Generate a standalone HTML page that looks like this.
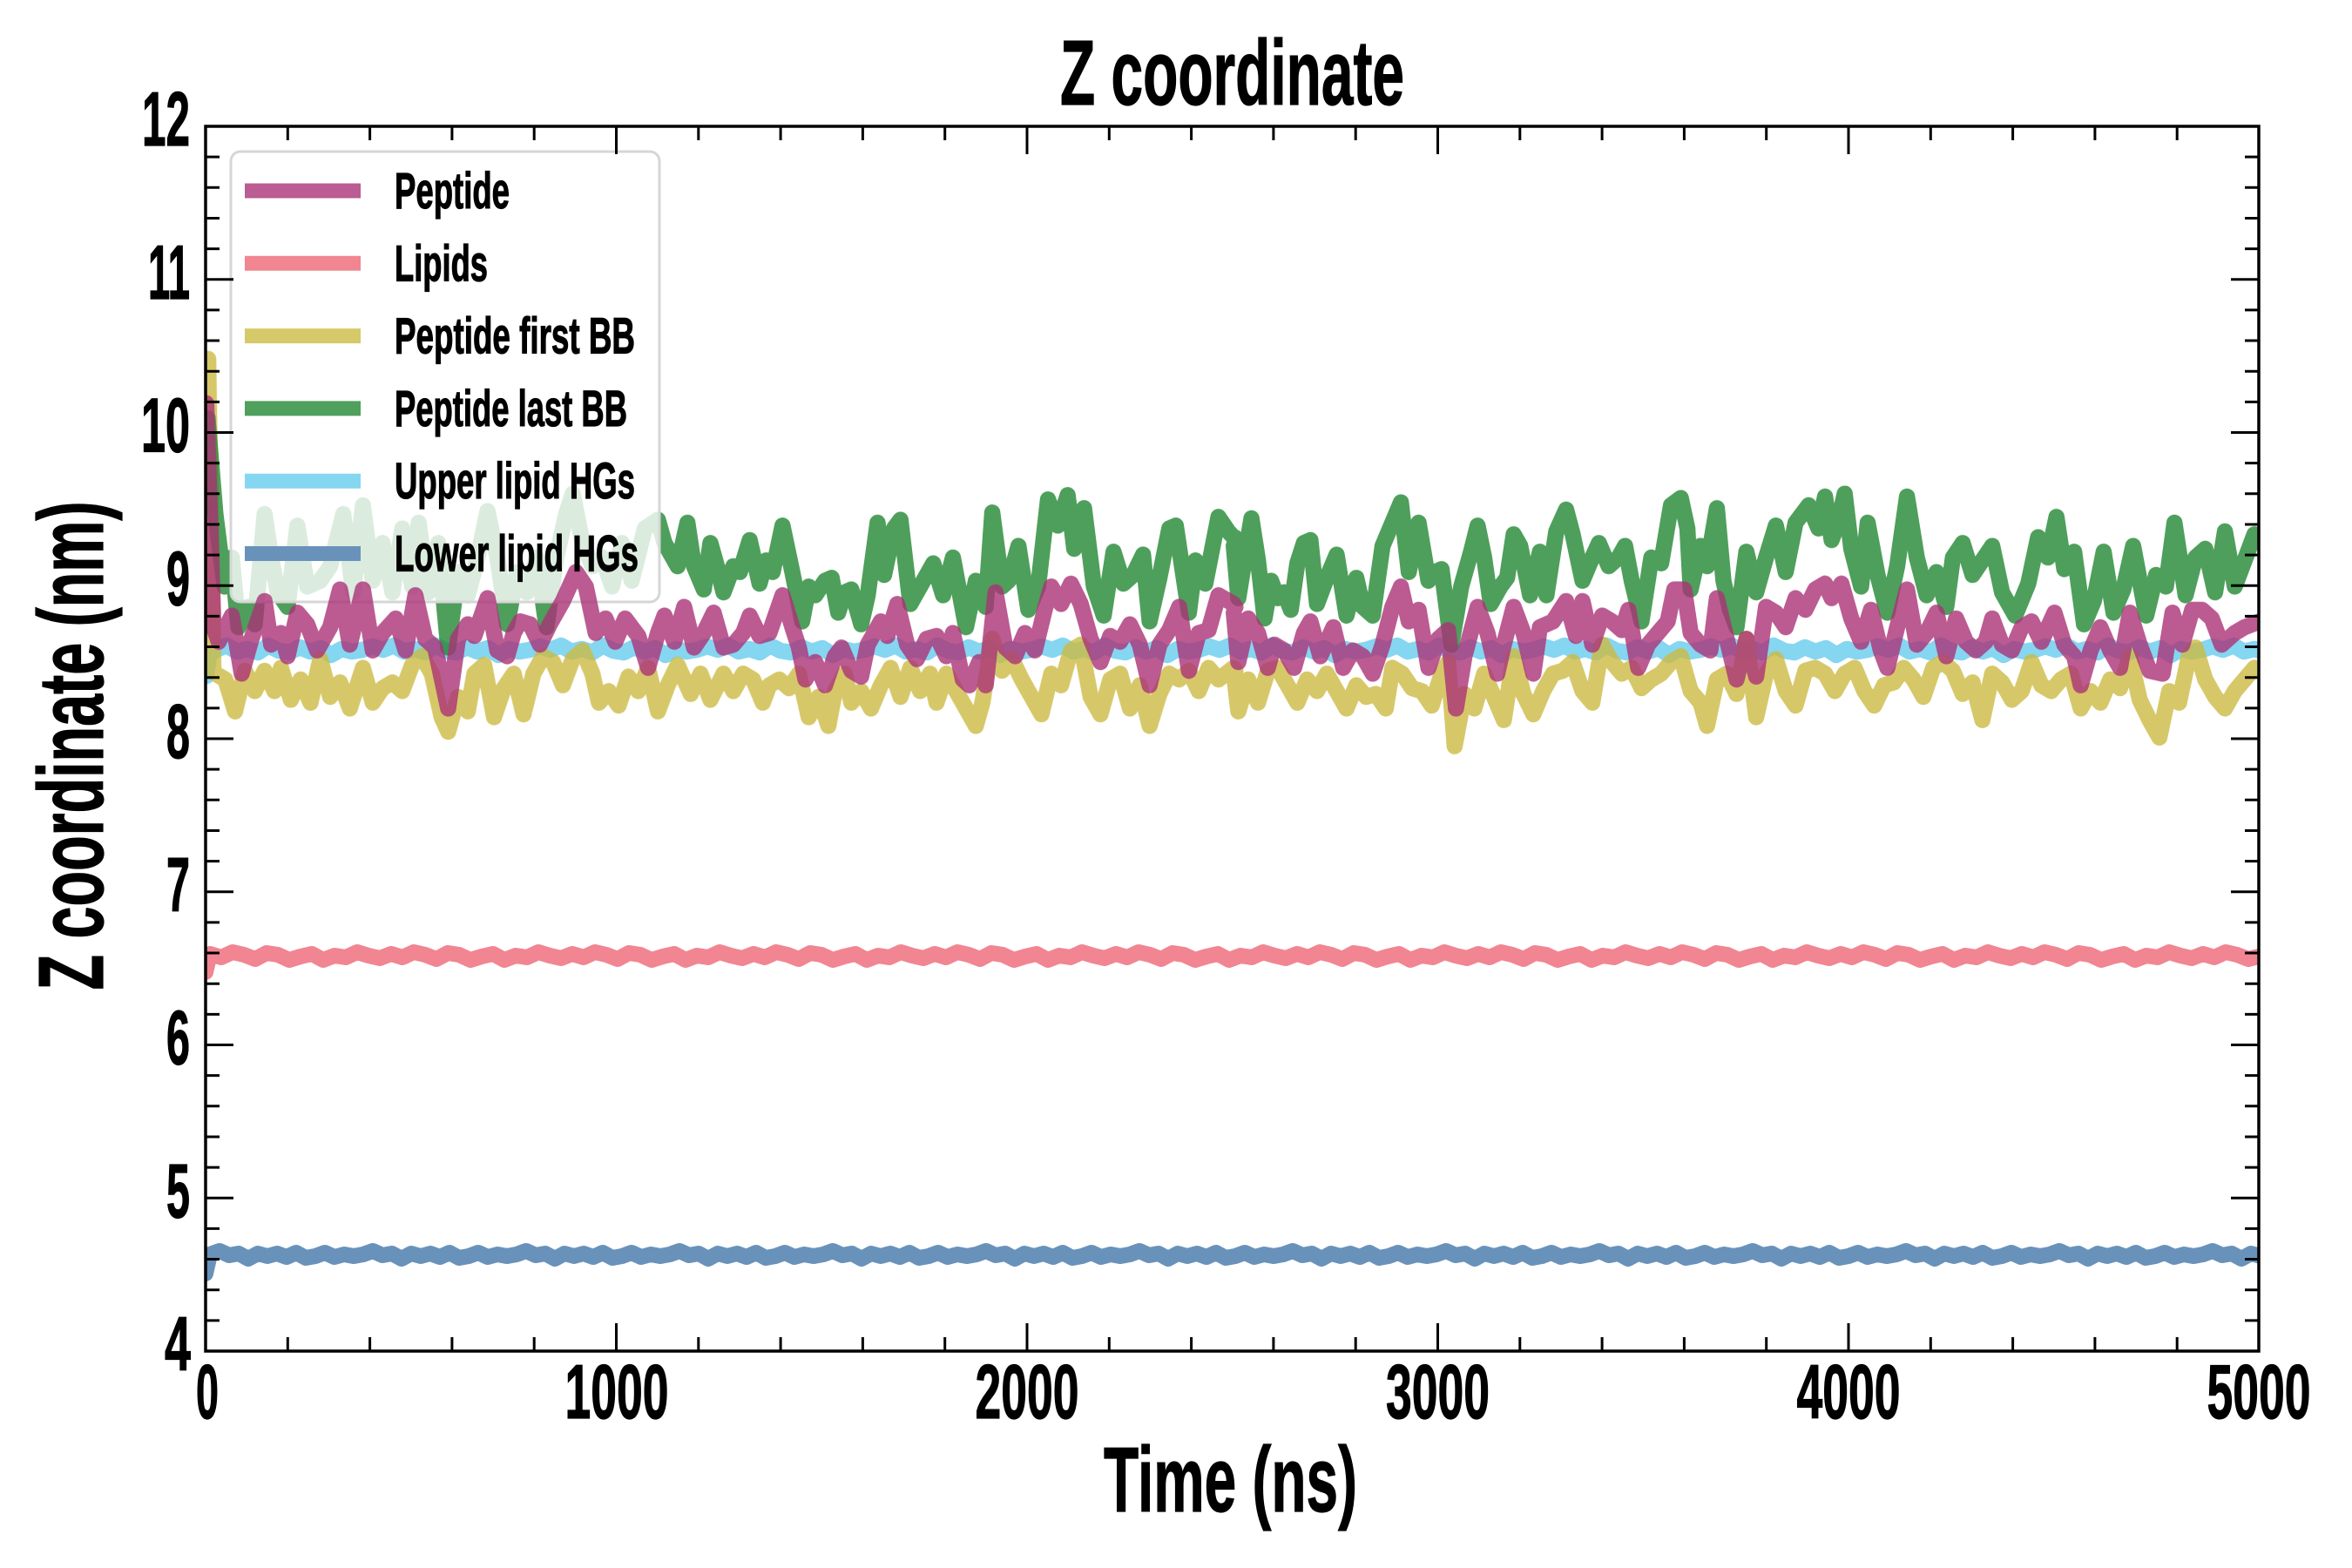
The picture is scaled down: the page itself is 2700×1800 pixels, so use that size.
<!DOCTYPE html>
<html><head><meta charset="utf-8"><style>
html,body{margin:0;padding:0;background:#fff;}
svg{display:block;}
text{font-family:"Liberation Sans Narrow","Liberation Sans",sans-serif;font-weight:700;fill:#000;stroke:#000;stroke-width:1.2;}
</style></head><body>
<svg width="2700" height="1800" viewBox="0 0 2700 1800" xmlns="http://www.w3.org/2000/svg">
<defs><clipPath id="pc"><rect x="236" y="145" width="2357" height="1406"/></clipPath></defs>
<rect x="0" y="0" width="2700" height="1800" fill="#fff"/>

<g clip-path="url(#pc)" fill="none" stroke-width="18" stroke-linejoin="round" stroke-linecap="round">
<!-- Lipids -->
<g opacity="0.8"><path stroke="#EE6677" d="M236,1116 L241,1095 l13,4 l13,-6 l13,3 l13,5 l13,-7 l13,2 l13,6 l13,-4 l13,-3 l13,7 l13,-5 l13,2 l13,-6 l13,4 l13,3 l13,-5 l13,4 l13,-6 l13,3 l13,5 l13,-7 l13,2 l13,6 l13,-4 l13,-3 l13,7 l13,-5 l13,2 l13,-6 l13,4 l13,3 l13,-5 l13,4 l13,-6 l13,3 l13,5 l13,-7 l13,2 l13,6 l13,-4 l13,-3 l13,7 l13,-5 l13,2 l13,-6 l13,4 l13,3 l13,-5 l13,4 l13,-6 l13,3 l13,5 l13,-7 l13,2 l13,6 l13,-4 l13,-3 l13,7 l13,-5 l13,2 l13,-6 l13,4 l13,3 l13,-5 l13,4 l13,-6 l13,3 l13,5 l13,-7 l13,2 l13,6 l13,-4 l13,-3 l13,7 l13,-5 l13,2 l13,-6 l13,4 l13,3 l13,-5 l13,4 l13,-6 l13,3 l13,5 l13,-7 l13,2 l13,6 l13,-4 l13,-3 l13,7 l13,-5 l13,2 l13,-6 l13,4 l13,3 l13,-5 l13,4 l13,-6 l13,3 l13,5 l13,-7 l13,2 l13,6 l13,-4 l13,-3 l13,7 l13,-5 l13,2 l13,-6 l13,4 l13,3 l13,-5 l13,4 l13,-6 l13,3 l13,5 l13,-7 l13,2 l13,6 l13,-4 l13,-3 l13,7 l13,-5 l13,2 l13,-6 l13,4 l13,3 l13,-5 l13,4 l13,-6 l13,3 l13,5 l13,-7 l13,2 l13,6 l13,-4 l13,-3 l13,7 l13,-5 l13,2 l13,-6 l13,4 l13,3 l13,-5 l13,4 l13,-6 l13,3 l13,5 l13,-7 l13,2 l13,6 l13,-4 l13,-3 l13,7 l13,-5 l13,2 l13,-6 l13,4 l13,3 l13,-5 l13,4 l13,-6 l13,3 l13,5 l13,-7 l13,2 l13,6 l13,-4 l13,-3 l13,7 l13,-5 l13,2 l13,-6 l13,4 l13,3 l13,-5 l13,4 l13,-6 l13,3 l13,5 l12,-3"/></g>
<!-- Lower lipid HGs -->
<g opacity="0.8"><path stroke="#4477AA" d="M236,1462 L241,1440 l11,-4 l11,5 l11,-2 l11,6 l11,-6 l11,3 l11,-3 l11,4 l11,-5 l11,6 l11,-2 l11,-4 l11,5 l11,-3 l11,2 l11,-2 l11,-4 l11,5 l11,-2 l11,6 l11,-6 l11,3 l11,-3 l11,4 l11,-5 l11,6 l11,-2 l11,-4 l11,5 l11,-3 l11,2 l11,-2 l11,-4 l11,5 l11,-2 l11,6 l11,-6 l11,3 l11,-3 l11,4 l11,-5 l11,6 l11,-2 l11,-4 l11,5 l11,-3 l11,2 l11,-2 l11,-4 l11,5 l11,-2 l11,6 l11,-6 l11,3 l11,-3 l11,4 l11,-5 l11,6 l11,-2 l11,-4 l11,5 l11,-3 l11,2 l11,-2 l11,-4 l11,5 l11,-2 l11,6 l11,-6 l11,3 l11,-3 l11,4 l11,-5 l11,6 l11,-2 l11,-4 l11,5 l11,-3 l11,2 l11,-2 l11,-4 l11,5 l11,-2 l11,6 l11,-6 l11,3 l11,-3 l11,4 l11,-5 l11,6 l11,-2 l11,-4 l11,5 l11,-3 l11,2 l11,-2 l11,-4 l11,5 l11,-2 l11,6 l11,-6 l11,3 l11,-3 l11,4 l11,-5 l11,6 l11,-2 l11,-4 l11,5 l11,-3 l11,2 l11,-2 l11,-4 l11,5 l11,-2 l11,6 l11,-6 l11,3 l11,-3 l11,4 l11,-5 l11,6 l11,-2 l11,-4 l11,5 l11,-3 l11,2 l11,-2 l11,-4 l11,5 l11,-2 l11,6 l11,-6 l11,3 l11,-3 l11,4 l11,-5 l11,6 l11,-2 l11,-4 l11,5 l11,-3 l11,2 l11,-2 l11,-4 l11,5 l11,-2 l11,6 l11,-6 l11,3 l11,-3 l11,4 l11,-5 l11,6 l11,-2 l11,-4 l11,5 l11,-3 l11,2 l11,-2 l11,-4 l11,5 l11,-2 l11,6 l11,-6 l11,3 l11,-3 l11,4 l11,-5 l11,6 l11,-2 l11,-4 l11,5 l11,-3 l11,2 l11,-2 l11,-4 l11,5 l11,-2 l11,6 l11,-6 l11,3 l11,-3 l11,4 l11,-5 l11,6 l11,-2 l11,-4 l11,5 l11,-3 l11,2 l11,-2 l11,-4 l11,5 l11,-2 l11,6 l11,-6 l11,3 l11,-3 l11,4 l11,-5 l11,6 l11,-2 l11,-4 l11,5 l11,-3 l11,2 l11,-2 l11,-4 l11,5 l11,-2 l11,6 l11,-6 l11,3 l11,-3 l11,4 l11,-5 l11,6 l11,-2 l11,-4 l11,5 l11,-3 l11,2 l11,-2 l11,-4 l11,5 l11,-2 l11,6 l11,-6 l9,1"/></g>
<!-- Upper lipid HGs -->
<g opacity="0.8"><path stroke="#66CCEE" stroke-width="18.5" d="M237,776 L240,752 L248,746 l12,-5 l12,7 l12,-3 l12,4 l12,-8 l12,6 l12,2 l12,-6 l12,5 l12,-4 l12,8 l12,-7 l12,3 l12,-2 l12,-4 l12,4 l12,-5 l12,7 l12,-3 l12,4 l12,-8 l12,6 l12,2 l12,-6 l12,5 l12,-4 l12,8 l12,-7 l12,3 l12,-2 l12,-4 l12,4 l12,-5 l12,7 l12,-3 l12,4 l12,-8 l12,6 l12,2 l12,-6 l12,5 l12,-4 l12,8 l12,-7 l12,3 l12,-2 l12,-4 l12,4 l12,-5 l12,7 l12,-3 l12,4 l12,-8 l12,6 l12,2 l12,-6 l12,5 l12,-4 l12,8 l12,-7 l12,3 l12,-2 l12,-4 l12,4 l12,-5 l12,7 l12,-3 l12,4 l12,-8 l12,6 l12,2 l12,-6 l12,5 l12,-4 l12,8 l12,-7 l12,3 l12,-2 l12,-4 l12,4 l12,-5 l12,7 l12,-3 l12,4 l12,-8 l12,6 l12,2 l12,-6 l12,5 l12,-4 l12,8 l12,-7 l12,3 l12,-2 l12,-4 l12,4 l12,-5 l12,7 l12,-3 l12,4 l12,-8 l12,6 l12,2 l12,-6 l12,5 l12,-4 l12,8 l12,-7 l12,3 l12,-2 l12,-4 l12,4 l12,-5 l12,7 l12,-3 l12,4 l12,-8 l12,6 l12,2 l12,-6 l12,5 l12,-4 l12,8 l12,-7 l12,3 l12,-2 l12,-4 l12,4 l12,-5 l12,7 l12,-3 l12,4 l12,-8 l12,6 l12,2 l12,-6 l12,5 l12,-4 l12,8 l12,-7 l12,3 l12,-2 l12,-4 l12,4 l12,-5 l12,7 l12,-3 l12,4 l12,-8 l12,6 l12,2 l12,-6 l12,5 l12,-4 l12,8 l12,-7 l12,3 l12,-2 l12,-4 l12,4 l12,-5 l12,7 l12,-3 l12,4 l12,-8 l12,6 l12,2 l12,-6 l12,5 l12,-4 l12,8 l12,-7 l12,3 l12,-2 l12,-4 l12,4 l12,-5 l12,7 l12,-3 l12,4 l12,-8 l12,6 l12,2 l12,-6 l12,5 l12,-4 l12,8 l12,-7 l12,3 l12,-2 l12,-4 l12,4 l12,-5 l12,7 l12,-3 l12,4 l12,-8 l12,6 l12,2 l12,-6 l12,5 l12,-4 l12,8 l12,-7 l12,3 l12,-2 l12,-4 l12,4 l12,-3 l12,4 l12,-2 l5,1"/></g>
<!-- Peptide first BB -->
<g opacity="0.8" stroke-width="18.5">
<polyline transform="translate(236,540) scale(0.75255,0.33333)" vector-effect="non-scaling-stroke" stroke="#CCBB44" points="4,-384 8,180 12,690 15,700 30,720 45,830 60,690 75,760 90,690 105,760 115,680 130,790 145,720 160,800 175,650 190,780 205,730 220,820 240,680 255,800 270,750 285,730 300,760 315,670 330,640 345,700 360,850 370,900 385,780 400,830 410,700 425,670 440,850 455,750 470,700 485,840 500,700 515,640 530,660 545,740 560,650 575,620 590,700 600,800 615,760 630,810 645,710 660,760 675,680 690,830 705,740 720,670 740,770 755,700 770,790 790,700 805,760 820,700 835,720 850,800 860,740 875,720 890,750 905,700 920,850 935,780 950,880 960,760 975,700 985,800 1000,760 1015,820 1030,740 1045,680 1060,780 1075,680 1090,760 1105,700 1115,800 1130,700 1145,760 1160,820 1175,880 1185,800 1200,580 1215,690 1230,650 1245,720 1260,780 1275,840 1290,700 1305,740 1320,620 1335,600 1350,780 1365,840 1380,720 1395,700 1410,820 1425,740 1440,880 1455,770 1470,700 1485,720 1500,690 1515,760 1530,680 1545,720 1568,680 1571,690"/>
<polyline transform="translate(1414,540) scale(0.75255,0.33333)" vector-effect="non-scaling-stroke" stroke="#CCBB44" points="3,695 10,830 25,720 40,800 55,690 70,680 85,740 100,800 115,720 130,760 145,700 160,760 175,820 190,740 205,780 220,770 235,820 245,680 260,700 275,750 290,760 305,810 320,700 330,660 340,950 355,770 370,820 385,700 400,780 415,860 430,640 445,770 460,840 475,760 490,700 505,690 520,660 535,760 550,800 565,600 580,660 595,700 610,680 625,750 640,720 655,700 670,660 685,640 700,760 715,800 725,880 740,720 755,700 770,770 785,580 800,850 815,700 830,650 845,760 860,810 875,690 890,680 905,700 920,760 935,700 950,680 965,760 980,810 995,740 1010,730 1025,680 1040,720 1055,780 1070,680 1085,660 1100,690 1115,770 1130,730 1145,860 1160,700 1175,730 1190,790 1205,760 1220,660 1235,740 1250,760 1265,720 1280,700 1295,820 1310,760 1325,800 1340,720 1355,750 1370,640 1385,790 1400,860 1415,920 1430,760 1445,800 1460,640 1470,610 1485,720 1500,780 1515,820 1530,760 1545,720 1560,680 1568,690"/>
</g>
<!-- Peptide last BB -->
<g opacity="0.8" stroke-width="18.5">
<polyline transform="translate(236,540) scale(0.75255,0.33333)" vector-effect="non-scaling-stroke" stroke="#228833" points="3,-180 15,150 29,400 40,300 50,540 65,470 75,530 90,150 100,300 110,420 125,470 140,190 155,400 175,380 190,330 210,150 225,420 240,120 255,380 270,250 285,420 300,200 315,400 325,180 340,420 355,250 370,610 385,350 400,430 415,300 430,140 445,300 460,530 475,350 490,420 505,300 520,540 535,300 550,150 560,80 575,250 590,330 605,300 620,400 635,250 650,380 670,200 690,170 700,250 720,330 735,180 745,330 760,410 770,250 780,330 790,420 805,330 815,350 830,240 845,390 855,310 865,350 880,190 895,350 910,520 920,400 930,430 945,380 955,370 965,490 975,420 985,410 1000,530 1010,430 1025,180 1035,360 1050,200 1060,170 1075,460 1090,400 1110,320 1125,430 1140,300 1160,540 1175,380 1190,470 1200,145 1215,400 1225,380 1240,260 1255,480 1270,400 1285,100 1300,190 1315,85 1325,270 1340,130 1355,400 1370,500 1385,280 1400,390 1415,360 1430,290 1440,520 1455,370 1470,200 1480,190 1500,490 1510,310 1525,390 1545,160 1560,210 1568,230 1571,232"/>
<polyline transform="translate(1414,540) scale(0.75255,0.33333)" vector-effect="non-scaling-stroke" stroke="#228833" points="3,260 10,440 20,300 30,165 40,310 50,510 60,380 70,440 80,420 90,480 100,320 110,250 120,240 130,460 145,370 160,290 175,500 190,370 200,470 215,500 230,260 245,180 258,110 270,350 285,180 300,380 310,350 320,340 335,600 350,400 365,280 375,190 385,300 395,460 410,400 420,370 430,220 440,260 455,430 470,280 480,430 495,210 510,135 520,220 535,380 550,300 560,250 575,330 590,300 600,260 610,380 625,520 640,300 655,320 670,120 685,95 695,200 700,410 715,260 725,330 740,130 750,380 760,480 770,540 785,280 800,420 815,300 830,190 845,350 860,180 880,120 895,200 905,90 915,240 925,180 935,80 945,270 960,400 970,180 985,360 1000,490 1015,330 1030,90 1045,300 1060,430 1075,350 1090,470 1100,300 1115,250 1130,360 1145,310 1160,260 1175,420 1195,500 1215,390 1230,230 1245,300 1258,160 1270,340 1285,280 1300,530 1315,450 1330,280 1345,490 1360,410 1375,260 1395,500 1410,360 1425,400 1438,180 1455,430 1470,300 1485,270 1500,420 1515,210 1530,400 1545,310 1560,220 1568,240"/>
</g>
</g>

<!-- Legend background -->
<rect x="265" y="174" width="492" height="517" rx="11" ry="11" fill="#ffffff" fill-opacity="0.8" stroke="#d6d6d6" stroke-width="3"/>

<!-- Peptide (drawn on top) -->
<g clip-path="url(#pc)" fill="none" stroke-width="18.5" stroke-linejoin="round" stroke-linecap="round">
<g opacity="0.8">
<polyline transform="translate(236,540) scale(0.75255,0.33333)" vector-effect="non-scaling-stroke" stroke="#AA3377" points="1,-231 7,180 12,540 20,590 40,500 55,700 70,580 90,450 100,600 115,560 125,640 140,490 155,530 170,620 190,540 205,410 220,600 240,410 255,620 270,560 290,510 305,620 320,430 335,580 350,610 370,820 385,580 400,530 410,570 430,440 445,620 460,640 470,560 480,520 495,530 510,600 525,530 545,450 565,350 580,400 595,560 610,510 625,590 640,510 660,570 675,680 690,560 700,500 715,590 730,470 745,610 760,560 775,490 790,610 805,600 820,560 830,500 845,570 860,560 880,430 895,540 905,610 915,720 930,660 945,740 960,640 970,610 985,690 1000,710 1010,600 1030,520 1040,570 1055,460 1070,600 1085,650 1100,580 1115,570 1130,640 1140,560 1155,720 1165,740 1180,660 1190,740 1205,420 1220,610 1235,640 1250,560 1265,620 1280,480 1290,400 1305,460 1320,390 1335,460 1350,580 1365,660 1380,570 1395,590 1410,530 1425,600 1440,740 1455,600 1470,550 1485,470 1500,690 1515,560 1530,550 1545,430 1568,460 1571,470"/>
<polyline transform="translate(1414,540) scale(0.75255,0.33333)" vector-effect="non-scaling-stroke" stroke="#AA3377" points="3,490 10,660 25,510 40,560 55,680 65,600 80,620 95,680 110,560 120,520 135,640 155,540 170,680 185,620 200,640 215,700 230,600 245,470 258,400 270,520 285,480 300,680 315,580 330,550 342,820 355,640 375,470 390,560 405,700 415,600 430,470 445,560 460,700 470,540 490,520 510,450 525,570 535,450 550,600 565,500 580,520 595,550 605,480 620,680 635,600 650,560 665,520 675,410 690,410 700,560 715,600 730,620 740,440 755,580 770,720 785,580 800,710 815,470 830,490 845,540 860,440 875,480 890,410 905,390 915,440 930,390 945,510 960,590 975,480 990,620 1000,680 1015,540 1030,410 1045,600 1060,560 1075,490 1090,640 1105,510 1120,590 1135,620 1150,590 1160,510 1175,600 1190,620 1205,540 1220,520 1235,590 1255,490 1270,600 1285,640 1295,740 1310,620 1325,540 1340,620 1355,680 1370,490 1385,600 1400,690 1420,700 1435,490 1450,600 1465,480 1480,480 1495,510 1510,600 1530,560 1545,540 1568,520"/>
</g>
</g>

<!-- Spines -->
<rect x="236" y="145" width="2357" height="1406" fill="none" stroke="#000" stroke-width="3.5"/>

<!-- Ticks -->
<g stroke="#000" stroke-width="3" fill="none">
<path d="M236,320.75h32M236,496.5h32M236,672.25h32M236,848h32M236,1023.75h32M236,1199.5h32M236,1375.25h32
M2593,320.75h-32M2593,496.5h-32M2593,672.25h-32M2593,848h-32M2593,1023.75h-32M2593,1199.5h-32M2593,1375.25h-32"/>
<path d="M236,180.15h16M236,215.3h16M236,250.45h16M236,285.6h16M236,355.9h16M236,391.05h16M236,426.2h16M236,461.35h16M236,531.65h16M236,566.8h16M236,601.95h16M236,637.1h16M236,707.4h16M236,742.55h16M236,777.7h16M236,812.85h16M236,883.15h16M236,918.3h16M236,953.45h16M236,988.6h16M236,1058.9h16M236,1094.05h16M236,1129.2h16M236,1164.35h16M236,1234.65h16M236,1269.8h16M236,1304.95h16M236,1340.1h16M236,1410.4h16M236,1445.55h16M236,1480.7h16M236,1515.85h16"/>
<path d="M2593,180.15h-16M2593,215.3h-16M2593,250.45h-16M2593,285.6h-16M2593,355.9h-16M2593,391.05h-16M2593,426.2h-16M2593,461.35h-16M2593,531.65h-16M2593,566.8h-16M2593,601.95h-16M2593,637.1h-16M2593,707.4h-16M2593,742.55h-16M2593,777.7h-16M2593,812.85h-16M2593,883.15h-16M2593,918.3h-16M2593,953.45h-16M2593,988.6h-16M2593,1058.9h-16M2593,1094.05h-16M2593,1129.2h-16M2593,1164.35h-16M2593,1234.65h-16M2593,1269.8h-16M2593,1304.95h-16M2593,1340.1h-16M2593,1410.4h-16M2593,1445.55h-16M2593,1480.7h-16M2593,1515.85h-16"/>
<path d="M707.5,1551v-32M1179,1551v-32M1650.5,1551v-32M2122,1551v-32
M707.5,145v32M1179,145v32M1650.5,145v32M2122,145v32"/>
<path d="M330.3,1551v-16M424.6,1551v-16M518.9,1551v-16M613.2,1551v-16M801.8,1551v-16M896.1,1551v-16M990.4,1551v-16M1084.7,1551v-16M1273.3,1551v-16M1367.6,1551v-16M1461.9,1551v-16M1556.2,1551v-16M1744.8,1551v-16M1839.1,1551v-16M1933.4,1551v-16M2027.7,1551v-16M2216.3,1551v-16M2310.6,1551v-16M2404.9,1551v-16M2499.2,1551v-16"/>
<path d="M330.3,145v16M424.6,145v16M518.9,145v16M613.2,145v16M801.8,145v16M896.1,145v16M990.4,145v16M1084.7,145v16M1273.3,145v16M1367.6,145v16M1461.9,145v16M1556.2,145v16M1744.8,145v16M1839.1,145v16M1933.4,145v16M2027.7,145v16M2216.3,145v16M2310.6,145v16M2404.9,145v16M2499.2,145v16"/>
</g>

<!-- Legend handles and text -->
<g stroke-width="17" fill="none">
<line x1="281" y1="219" x2="414" y2="219" stroke="#bb5c92"/>
<line x1="281" y1="302.3" x2="414" y2="302.3" stroke="#f18592"/>
<line x1="281" y1="385.6" x2="414" y2="385.6" stroke="#d6c969"/>
<line x1="281" y1="468.9" x2="414" y2="468.9" stroke="#4ea05c"/>
<line x1="281" y1="552.2" x2="414" y2="552.2" stroke="#85d6f1"/>
<line x1="281" y1="635.5" x2="414" y2="635.5" stroke="#6992bb"/>
</g>
<g font-size="58">
<text x="453" y="239" textLength="132" lengthAdjust="spacingAndGlyphs">Peptide</text>
<text x="453" y="322.3" textLength="107" lengthAdjust="spacingAndGlyphs">Lipids</text>
<text x="453" y="405.6" textLength="276" lengthAdjust="spacingAndGlyphs">Peptide first BB</text>
<text x="453" y="488.9" textLength="267" lengthAdjust="spacingAndGlyphs">Peptide last BB</text>
<text x="453" y="572.2" textLength="276" lengthAdjust="spacingAndGlyphs">Upper lipid HGs</text>
<text x="453" y="655.5" textLength="280" lengthAdjust="spacingAndGlyphs">Lower lipid HGs</text>
</g>

<!-- Y tick labels -->
<g font-size="88" text-anchor="end">
<text x="218" y="167" textLength="55" lengthAdjust="spacingAndGlyphs">12</text>
<text x="218" y="342.75" textLength="48" lengthAdjust="spacingAndGlyphs">11</text>
<text x="218" y="518.5" textLength="56" lengthAdjust="spacingAndGlyphs">10</text>
<text x="218" y="694.25" textLength="27" lengthAdjust="spacingAndGlyphs">9</text>
<text x="218" y="870" textLength="27" lengthAdjust="spacingAndGlyphs">8</text>
<text x="218" y="1045.75" textLength="27" lengthAdjust="spacingAndGlyphs">7</text>
<text x="218" y="1221.5" textLength="27" lengthAdjust="spacingAndGlyphs">6</text>
<text x="218" y="1397.25" textLength="27" lengthAdjust="spacingAndGlyphs">5</text>
<text x="219" y="1573" textLength="30" lengthAdjust="spacingAndGlyphs">4</text>
</g>
<!-- X tick labels -->
<g font-size="88" text-anchor="middle">
<text x="238" y="1628" textLength="26" lengthAdjust="spacingAndGlyphs">0</text>
<text x="708" y="1628" textLength="119" lengthAdjust="spacingAndGlyphs">1000</text>
<text x="1179" y="1628" textLength="119" lengthAdjust="spacingAndGlyphs">2000</text>
<text x="1650.5" y="1628" textLength="119" lengthAdjust="spacingAndGlyphs">3000</text>
<text x="2122" y="1628" textLength="119" lengthAdjust="spacingAndGlyphs">4000</text>
<text x="2593" y="1628" textLength="119" lengthAdjust="spacingAndGlyphs">5000</text>
</g>

<!-- Title and axis labels -->
<text x="1414.5" y="120" font-size="106" text-anchor="middle" textLength="395" lengthAdjust="spacingAndGlyphs">Z coordinate</text>
<text x="1412.5" y="1735" font-size="106" text-anchor="middle" textLength="291" lengthAdjust="spacingAndGlyphs">Time (ns)</text>
<text transform="translate(118,856) rotate(-90)" x="0" y="0" font-size="106" text-anchor="middle" textLength="561" lengthAdjust="spacingAndGlyphs">Z coordinate (nm)</text>
</svg>
</body></html>
